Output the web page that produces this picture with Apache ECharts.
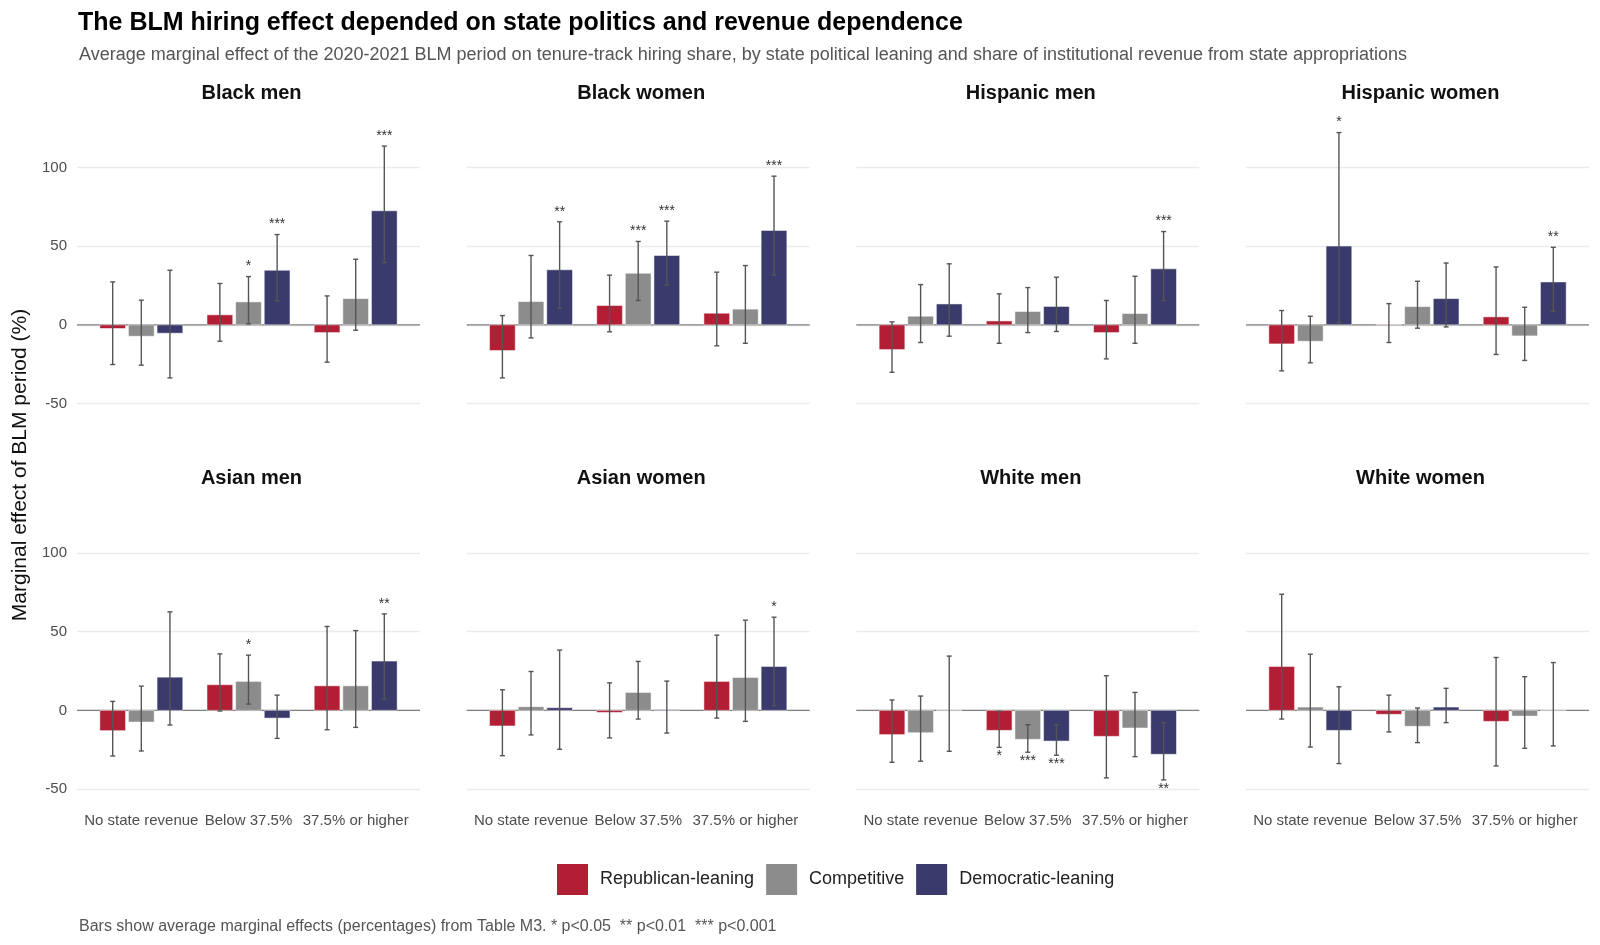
<!DOCTYPE html>
<html>
<head>
<meta charset="utf-8">
<title>BLM hiring effect</title>
<script src="https://cdn.jsdelivr.net/npm/echarts@6/dist/echarts.min.js"></script>
<style>html,body{margin:0;background:#fff;}</style>
</head>
<body>
<div id="main" style="width:1600px;height:945px;"></div>
<script type="text/javascript">
var groups = ['Black men', 'Black women', 'Hispanic men', 'Hispanic women',
              'Asian men', 'Asian women', 'White men', 'White women'];
var revenueCats = ['No state revenue', 'Below 37.5%', '37.5% or higher'];
var leanings = ['Republican-leaning', 'Competitive', 'Democratic-leaning'];
var yTicks = [-50, 0, 50, 100];

// one row per group, one value per revenue category (percent)
var repEst = [[-2.3, 6.4, -4.9], [-16.3, 12.3, 7.4], [-15.7, 2.5, -4.9], [-12.1, 0.2, 5.1],
              [-12.9, 16.3, 15.6], [-9.9, -1.3, 18.4], [-15.4, -12.7, -16.5], [27.9, -2.5, -7.0]];
var repLo  = [[-25.2, -10.4, -23.7], [-33.7, -4.4, -13.3], [-30.1, -11.7, -21.6], [-29.2, -11.2, -18.8],
              [-29.0, -0.4, -12.3], [-28.8, -17.5, -4.9], [-33.0, -23.5, -42.9], [-5.5, -13.7, -35.3]];
var repHi  = [[27.3, 26.3, 18.4], [5.9, 31.6, 33.5], [1.9, 19.7, 15.5], [9.1, 13.5, 36.8],
              [5.7, 35.9, 53.3], [13.1, 17.5, 47.8], [6.6, -0.6, 22.0], [73.8, 9.7, 33.6]];
var repSig = [['', '', ''], ['', '', ''], ['', '', ''], ['', '', ''],
              ['', '', ''], ['', '', ''], ['', '*', ''], ['', '', '']];

var compEst = [[-7.2, 14.6, 16.7], [14.8, 32.8, 10.0], [5.5, 8.5, 7.2], [-10.4, 11.6, -7.0],
               [-7.4, 18.4, 15.6], [2.3, 11.4, 20.9], [-14.2, -18.4, -11.2], [2.1, -10.1, -3.6]];
var compLo  = [[-25.6, 0.6, -3.4], [-8.3, 15.5, -11.7], [-11.2, -4.9, -11.7], [-24.1, -2.1, -22.6],
               [-25.8, 4.0, -10.8], [-15.6, -5.5, -7.0], [-32.3, -26.6, -29.4], [-23.3, -20.5, -24.1]];
var compHi  = [[15.7, 30.7, 41.7], [44.1, 53.0, 37.7], [25.6, 23.7, 30.9], [5.5, 27.7, 11.2],
               [15.4, 35.1, 50.7], [24.7, 31.1, 57.3], [9.1, -9.1, 11.4], [35.7, 1.5, 21.4]];
var compSig = [['', '*', ''], ['', '***', ''], ['', '', ''], ['', '', ''],
               ['', '*', ''], ['', '', ''], ['', '***', ''], ['', '', '']];

var demEst = [[-5.3, 34.7, 72.5], [35.0, 44.1, 60.0], [13.3, 11.7, 35.6], [50.1, 16.7, 27.3],
              [21.1, -4.9, 31.3], [1.7, 0.4, 27.9], [0.2, -19.5, -27.9], [-12.7, 2.1, 0.2]];
var demLo  = [[-33.7, 15.3, 39.6], [10.6, 25.4, 31.6], [-7.2, -4.2, 15.5], [1.5, -1.3, 8.7],
              [-9.3, -17.8, 7.2], [-24.7, -14.4, 3.0], [-26.0, -28.5, -44.2], [-33.8, -7.8, -22.6]];
var demHi  = [[34.7, 57.4, 113.6], [65.5, 65.9, 94.5], [38.8, 30.3, 59.3], [122.2, 39.3, 49.3],
              [62.6, 9.7, 61.3], [38.3, 18.6, 59.2], [34.5, -9.1, -7.8], [15.0, 14.0, 30.4]];
var demSig = [['', '***', '***'], ['**', '***', '***'], ['', '', '***'], ['*', '', '**'],
              ['', '', '**'], ['', '', '*'], ['', '***', '**'], ['', '', '']];

var colors = ['#b21f35', '#8c8c8c', '#3b3a6c'];
var estAll = [repEst, compEst, demEst];
var loAll = [repLo, compLo, demLo];
var hiAll = [repHi, compHi, demHi];
var sigAll = [repSig, compSig, demSig];

var FONT = 'Liberation Sans';
var panelLeft = [77, 466.7, 856.3, 1246];
var panelW = 343;
var rowTop = [114, 499.5];
var panelH = 299;
var dodge = [-0.267, 0, 0.267];
var barW = 0.24;

var myChart = echarts.init(document.getElementById('main'));

var grids = [], xAxes = [], yAxes = [], series = [];
var titles = [
    {text: 'The BLM hiring effect depended on state politics and revenue dependence',
     left: 73, top: 6, textStyle: {fontFamily: FONT, fontSize: 25, fontWeight: 'bold', color: '#000'}},
    {text: 'Average marginal effect of the 2020-2021 BLM period on tenure-track hiring share, by state political leaning and share of institutional revenue from state appropriations',
     left: 74, top: 41, textStyle: {fontFamily: FONT, fontSize: 18, fontWeight: 'normal', color: '#555'}},
    {text: 'Bars show average marginal effects (percentages) from Table M3. * p<0.05  ** p<0.01  *** p<0.001',
     left: 74, top: 914, textStyle: {fontFamily: FONT, fontSize: 16, fontWeight: 'normal', color: '#555'}}
];

function makeRender(k, sig) {
    return function (params, api) {
        var x = api.value(0) + dodge[k];
        var est = api.value(1), lo = api.value(2), hi = api.value(3);
        var half = api.size([barW, 0])[0] / 2;
        var p0 = api.coord([x, 0]), p1 = api.coord([x, est]);
        var pl = api.coord([x, lo]), ph = api.coord([x, hi]);
        var line = {stroke: '#555', lineWidth: 1.4};
        var kids = [
            {type: 'rect', shape: {x: p0[0] - half, y: Math.min(p0[1], p1[1]), width: half * 2,
                                   height: Math.abs(p1[1] - p0[1])},
             style: {fill: colors[k], stroke: '#fff', lineWidth: 0.5}},
            {type: 'line', shape: {x1: ph[0], y1: ph[1], x2: pl[0], y2: pl[1]}, style: line},
            {type: 'line', shape: {x1: ph[0] - 2.5, y1: ph[1], x2: ph[0] + 2.5, y2: ph[1]}, style: line},
            {type: 'line', shape: {x1: pl[0] - 2.5, y1: pl[1], x2: pl[0] + 2.5, y2: pl[1]}, style: line}
        ];
        var s = sig[params.dataIndex];
        if (s) {
            var up = est >= 0;
            kids.push({type: 'text', x: ph[0], y: up ? ph[1] - 3 : pl[1] + 2,
                       style: {text: s, fill: '#333', fontSize: 14, fontFamily: FONT,
                               align: 'center', verticalAlign: up ? 'bottom' : 'top'}});
        }
        return {type: 'group', children: kids};
    };
}

groups.forEach(function (g, i) {
    var col = i % 4, row = Math.floor(i / 4);
    grids.push({left: panelLeft[col], top: rowTop[row], width: panelW, height: panelH});
    titles.push({text: g, left: panelLeft[col] + panelW / 2 - 2, top: rowTop[row] - 36, textAlign: 'center',
                 textStyle: {fontFamily: FONT, fontSize: 20, fontWeight: 'bold', color: '#111'}});
    xAxes.push({
        type: 'value', gridIndex: i, min: 0.4, max: 3.6,
        axisLine: {show: false}, axisTick: {show: false}, splitLine: {show: false},
        axisLabel: {
            show: row === 1, customValues: [1, 2, 3], margin: 15,
            fontFamily: FONT, fontSize: 15, color: '#4d4d4d',
            formatter: function (v) { return Number.isInteger(v) ? revenueCats[v - 1] : ''; }
        }
    });
    yAxes.push({
        type: 'value', gridIndex: i, min: -56, max: 134, splitNumber: 4,
        axisLine: {show: false}, axisTick: {show: false},
        splitLine: {show: true, showMinLine: false, showMaxLine: false,
                    lineStyle: {color: '#ebebeb', width: 1.3}},
        axisLabel: {
            show: col === 0, showMinLabel: false, showMaxLabel: false,
            fontFamily: FONT, fontSize: 15, color: '#4d4d4d', margin: 10,
            formatter: function (v) { return yTicks.indexOf(v) >= 0 ? String(v) : ''; }
        }
    });
    series.push({
        type: 'line', xAxisIndex: i, yAxisIndex: i, z: 1, silent: true,
        showSymbol: false, symbol: 'none',
        lineStyle: {color: '#808080', width: 1.3},
        data: [[0.4, 0], [3.6, 0]]
    });
    leanings.forEach(function (name, k) {
        series.push({
            type: 'custom', name: name, xAxisIndex: i, yAxisIndex: i, z: 3,
            itemStyle: {color: colors[k]},
            encode: {x: 0, y: [1, 2, 3]},
            renderItem: makeRender(k, sigAll[k][i]),
            data: revenueCats.map(function (c, j) {
                return [j + 1, estAll[k][i][j], loAll[k][i][j], hiAll[k][i][j]];
            })
        });
    });
});

myChart.setOption({
    backgroundColor: '#fff',
    animation: false,
    title: titles,
    grid: grids,
    xAxis: xAxes,
    yAxis: yAxes,
    legend: {
        data: leanings, left: 552, top: 859, selectedMode: false,
        icon: 'rect', itemWidth: 31, itemHeight: 31, itemGap: 12,
        textStyle: {fontFamily: FONT, fontSize: 18, color: '#222', padding: [0, 0, 0, 7]}
    },
    graphic: [{
        type: 'text', x: 20, y: 465, rotation: Math.PI / 2,
        style: {text: 'Marginal effect of BLM period (%)', fontFamily: FONT, fontSize: 21,
                fill: '#111', align: 'center', verticalAlign: 'middle'}
    }],
    series: series
});
</script>
</body>
</html>
